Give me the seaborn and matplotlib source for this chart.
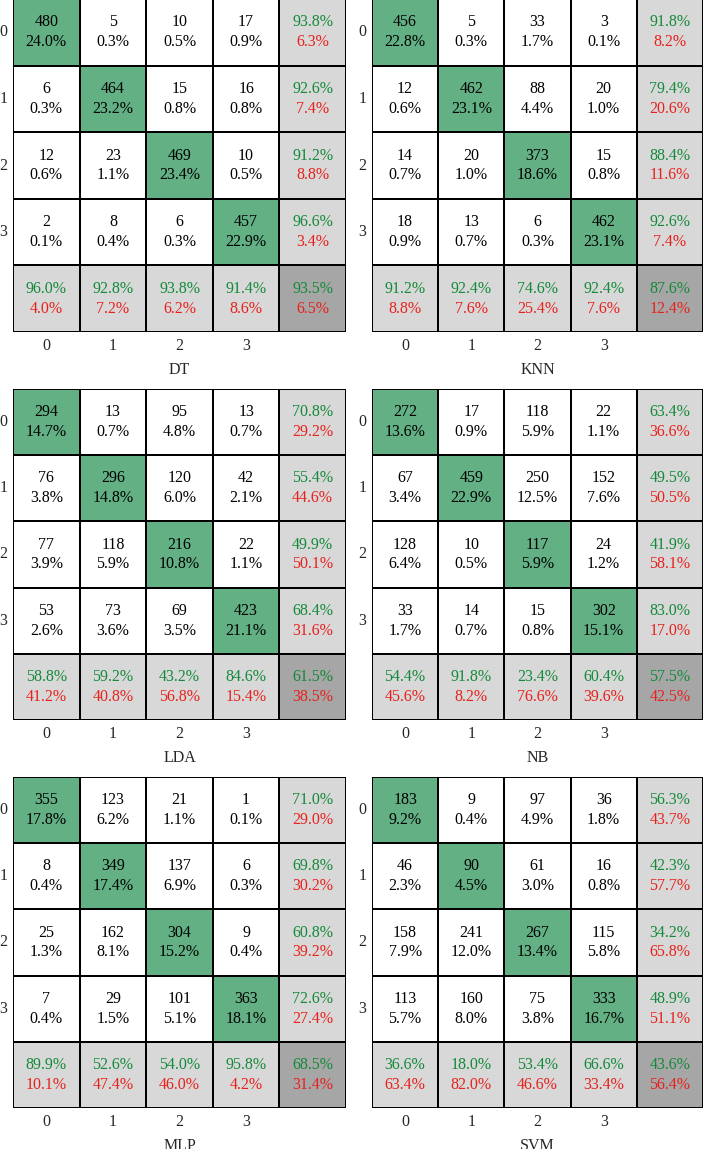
import numpy as np
import matplotlib
matplotlib.use("Agg")
import matplotlib.pyplot as plt
from matplotlib.colors import ListedColormap
import seaborn as sns

# ---------------- data ----------------
models = ["DT", "KNN", "LDA", "NB", "MLP", "SVM"]
class_labels = ["0", "1", "2", "3"]

dt_counts = [[480, 5, 10, 17], [6, 464, 15, 16], [12, 23, 469, 10], [2, 8, 6, 457]]
dt_pct = [[24.0, 0.3, 0.5, 0.9], [0.3, 23.2, 0.8, 0.8], [0.6, 1.1, 23.4, 0.5], [0.1, 0.4, 0.3, 22.9]]
dt_row_ok = [93.8, 92.6, 91.2, 96.6]
dt_row_err = [6.3, 7.4, 8.8, 3.4]
dt_col_ok = [96.0, 92.8, 93.8, 91.4]
dt_col_err = [4.0, 7.2, 6.2, 8.6]
dt_total = [93.5, 6.5]

knn_counts = [[456, 5, 33, 3], [12, 462, 88, 20], [14, 20, 373, 15], [18, 13, 6, 462]]
knn_pct = [[22.8, 0.3, 1.7, 0.1], [0.6, 23.1, 4.4, 1.0], [0.7, 1.0, 18.6, 0.8], [0.9, 0.7, 0.3, 23.1]]
knn_row_ok = [91.8, 79.4, 88.4, 92.6]
knn_row_err = [8.2, 20.6, 11.6, 7.4]
knn_col_ok = [91.2, 92.4, 74.6, 92.4]
knn_col_err = [8.8, 7.6, 25.4, 7.6]
knn_total = [87.6, 12.4]

lda_counts = [[294, 13, 95, 13], [76, 296, 120, 42], [77, 118, 216, 22], [53, 73, 69, 423]]
lda_pct = [[14.7, 0.7, 4.8, 0.7], [3.8, 14.8, 6.0, 2.1], [3.9, 5.9, 10.8, 1.1], [2.6, 3.6, 3.5, 21.1]]
lda_row_ok = [70.8, 55.4, 49.9, 68.4]
lda_row_err = [29.2, 44.6, 50.1, 31.6]
lda_col_ok = [58.8, 59.2, 43.2, 84.6]
lda_col_err = [41.2, 40.8, 56.8, 15.4]
lda_total = [61.5, 38.5]

nb_counts = [[272, 17, 118, 22], [67, 459, 250, 152], [128, 10, 117, 24], [33, 14, 15, 302]]
nb_pct = [[13.6, 0.9, 5.9, 1.1], [3.4, 22.9, 12.5, 7.6], [6.4, 0.5, 5.9, 1.2], [1.7, 0.7, 0.8, 15.1]]
nb_row_ok = [63.4, 49.5, 41.9, 83.0]
nb_row_err = [36.6, 50.5, 58.1, 17.0]
nb_col_ok = [54.4, 91.8, 23.4, 60.4]
nb_col_err = [45.6, 8.2, 76.6, 39.6]
nb_total = [57.5, 42.5]

mlp_counts = [[355, 123, 21, 1], [8, 349, 137, 6], [25, 162, 304, 9], [7, 29, 101, 363]]
mlp_pct = [[17.8, 6.2, 1.1, 0.1], [0.4, 17.4, 6.9, 0.3], [1.3, 8.1, 15.2, 0.4], [0.4, 1.5, 5.1, 18.1]]
mlp_row_ok = [71.0, 69.8, 60.8, 72.6]
mlp_row_err = [29.0, 30.2, 39.2, 27.4]
mlp_col_ok = [89.9, 52.6, 54.0, 95.8]
mlp_col_err = [10.1, 47.4, 46.0, 4.2]
mlp_total = [68.5, 31.4]

svm_counts = [[183, 9, 97, 36], [46, 90, 61, 16], [158, 241, 267, 115], [113, 160, 75, 333]]
svm_pct = [[9.2, 0.4, 4.9, 1.8], [2.3, 4.5, 3.0, 0.8], [7.9, 12.0, 13.4, 5.8], [5.7, 8.0, 3.8, 16.7]]
svm_row_ok = [56.3, 42.3, 34.2, 48.9]
svm_row_err = [43.7, 57.7, 65.8, 51.1]
svm_col_ok = [36.6, 18.0, 53.4, 66.6]
svm_col_err = [63.4, 82.0, 46.6, 33.4]
svm_total = [43.6, 56.4]

panels = [
    (dt_counts, dt_pct, dt_row_ok, dt_row_err, dt_col_ok, dt_col_err, dt_total),
    (knn_counts, knn_pct, knn_row_ok, knn_row_err, knn_col_ok, knn_col_err, knn_total),
    (lda_counts, lda_pct, lda_row_ok, lda_row_err, lda_col_ok, lda_col_err, lda_total),
    (nb_counts, nb_pct, nb_row_ok, nb_row_err, nb_col_ok, nb_col_err, nb_total),
    (mlp_counts, mlp_pct, mlp_row_ok, mlp_row_err, mlp_col_ok, mlp_col_err, mlp_total),
    (svm_counts, svm_pct, svm_row_ok, svm_row_err, svm_col_ok, svm_col_err, svm_total),
]

# ---------------- style ----------------
sns.set_style("white")
plt.rcParams["font.family"] = ["Liberation Serif", "DejaVu Serif"]

GREEN_CELL = "#62B084"
LIGHT_GRAY = "#D8D8D8"
DARK_GRAY = "#A6A6A6"
GREEN_TXT = "#138A3A"
RED_TXT = "#E8211C"
FS = 11.5

cmap = ListedColormap(["white", GREEN_CELL, LIGHT_GRAY, DARK_GRAY])

W, H = 705, 1149
fig = plt.figure(figsize=(W / 100, H / 100), dpi=100)

col_x = [13, 372]
col_w = [333, 331]
row_top = [-1, 389, 777]
row_bottom = [332, 720, 1108]

for idx, (name, data) in enumerate(zip(models, panels)):
    counts, pct, row_ok, row_err, col_ok, col_err, total = data
    r, c = divmod(idx, 2)
    left = col_x[c] / W
    bottom = 1 - row_bottom[r] / H
    height = (row_bottom[r] - row_top[r]) / H
    ax = fig.add_axes([left, bottom, col_w[c] / W, height])

    n = len(class_labels)
    kind = np.zeros((n + 1, n + 1))
    for i in range(n):
        kind[i, i] = 1
    kind[n, :] = 2
    kind[:, n] = 2
    kind[n, n] = 3

    sns.heatmap(kind, cmap=cmap, vmin=-0.5, vmax=3.5, cbar=False,
                linewidths=1.3, linecolor="black", ax=ax, square=False)

    off = 0.15
    for i in range(n):
        for j in range(n):
            ax.text(j + 0.5, i + 0.5 - off, f"{counts[i][j]}", ha="center", va="center",
                    fontsize=FS, color="black")
            ax.text(j + 0.5, i + 0.5 + off, f"{pct[i][j]:.1f}%", ha="center", va="center",
                    fontsize=FS, color="black")
        # row summary
        ax.text(n + 0.5, i + 0.5 - off, f"{row_ok[i]:.1f}%", ha="center", va="center",
                fontsize=FS, color=GREEN_TXT)
        ax.text(n + 0.5, i + 0.5 + off, f"{row_err[i]:.1f}%", ha="center", va="center",
                fontsize=FS, color=RED_TXT)
        # column summary
        ax.text(i + 0.5, n + 0.5 - off, f"{col_ok[i]:.1f}%", ha="center", va="center",
                fontsize=FS, color=GREEN_TXT)
        ax.text(i + 0.5, n + 0.5 + off, f"{col_err[i]:.1f}%", ha="center", va="center",
                fontsize=FS, color=RED_TXT)
    ax.text(n + 0.5, n + 0.5 - off, f"{total[0]:.1f}%", ha="center", va="center",
            fontsize=FS, color=GREEN_TXT)
    ax.text(n + 0.5, n + 0.5 + off, f"{total[1]:.1f}%", ha="center", va="center",
            fontsize=FS, color=RED_TXT)

    ax.set_xticks(np.arange(n) + 0.5)
    ax.set_xticklabels(class_labels, fontsize=FS, rotation=0)
    ax.set_yticks(np.arange(n) + 0.5)
    ax.set_yticklabels(class_labels, fontsize=FS, rotation=0)
    ax.tick_params(axis="y", length=0, pad=4)
    ax.tick_params(axis="x", length=0, pad=4)
    ax.set_xlabel(name, fontsize=FS, labelpad=6)
    ax.set_ylabel("")

fig.savefig("out.png", dpi=100)
